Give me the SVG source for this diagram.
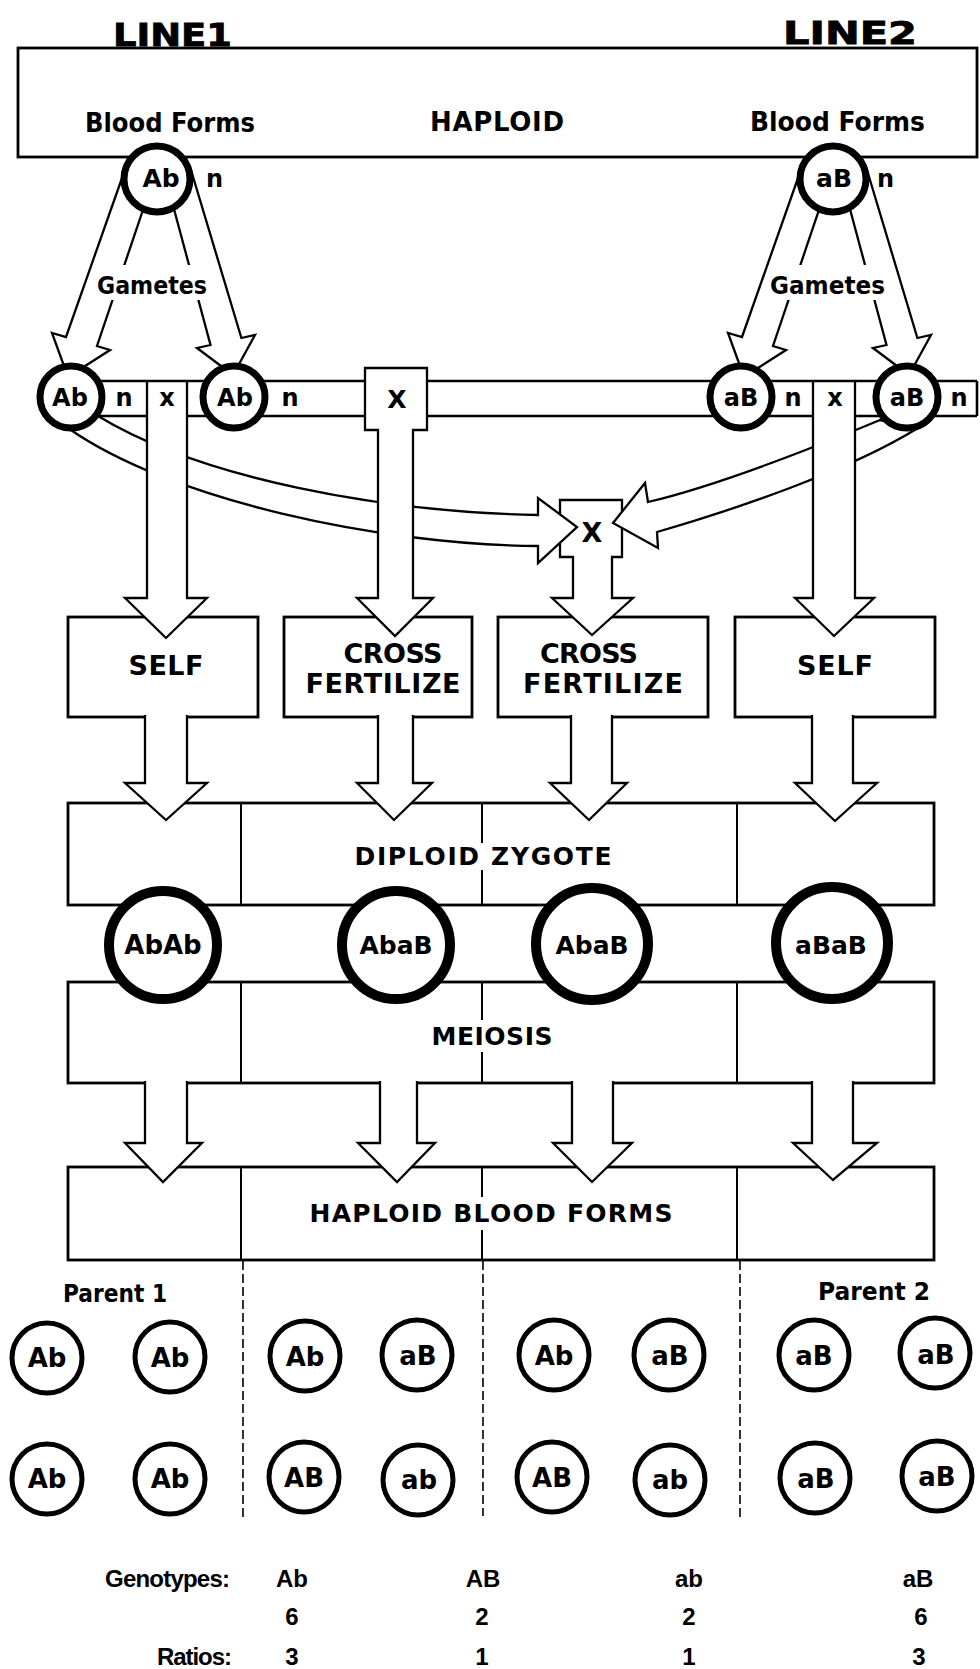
<svg xmlns="http://www.w3.org/2000/svg" width="980" height="1669" viewBox="0 0 980 1669">
<style>
.box{fill:#fff;stroke:#000;stroke-width:2.8}
.arr{fill:#fff;stroke:#000;stroke-width:2.3;stroke-linejoin:miter}
.ln{stroke:#000;stroke-width:2.6;fill:none}
.dv{stroke:#000;stroke-width:2;fill:none}
.dash{stroke:#000;stroke-width:1.6;stroke-dasharray:9 4;fill:none}
.c1{fill:#fff;stroke:#000;stroke-width:7}
.c2{fill:#fff;stroke:#000;stroke-width:10}
.c3{fill:#fff;stroke:#000;stroke-width:5}
text{font-family:"DejaVu Sans","Liberation Sans",Arial,sans-serif;font-weight:bold;fill:#000}
.tb{font-family:"Liberation Sans",Arial,sans-serif}
.m{text-anchor:middle}
.e{text-anchor:end}
.f32{font-size:32px}
.f27{font-size:27px}
.f26{font-size:26px}
.f25{font-size:25px}
.f24{font-size:24px}
.f23{font-size:23px}
</style>

<g id="titles">
<text class="f32" x="113" y="46" textLength="119" lengthAdjust="spacingAndGlyphs" stroke="#000" stroke-width="0.8">LINE1</text>
<text class="f32" x="783" y="44" textLength="134" lengthAdjust="spacingAndGlyphs" stroke="#000" stroke-width="0.8">LINE2</text>
</g>

<g id="haploid-top">
<rect class="box" x="18" y="48" width="959" height="109"/>
<text class="f26" x="85" y="132" textLength="170" lengthAdjust="spacingAndGlyphs">Blood Forms</text>
<text class="f26" x="430" y="131" textLength="134">HAPLOID</text>
<text class="f26" x="750" y="131" textLength="175" lengthAdjust="spacingAndGlyphs">Blood Forms</text>
</g>

<g id="self-1"><rect class="box" x="68" y="617" width="190" height="100"/></g>
<g id="cross-1"><rect class="box" x="284" y="617" width="188" height="100"/></g>
<g id="cross-2"><rect class="box" x="498" y="617" width="210" height="100"/></g>
<g id="self-2"><rect class="box" x="735" y="617" width="200" height="100"/></g>

<g id="diploid-zygote">
<rect class="box" x="68" y="803" width="866" height="102"/>
<line class="dv" x1="241" y1="803" x2="241" y2="905"/>
<line class="dv" x1="482" y1="803" x2="482" y2="843"/>
<line class="dv" x1="482" y1="870" x2="482" y2="905"/>
<line class="dv" x1="737" y1="803" x2="737" y2="905"/>
</g>
<g id="meiosis">
<rect class="box" x="68" y="982" width="866" height="101"/>
<line class="dv" x1="241" y1="982" x2="241" y2="1083"/>
<line class="dv" x1="482" y1="982" x2="482" y2="1020"/>
<line class="dv" x1="482" y1="1052" x2="482" y2="1083"/>
<line class="dv" x1="737" y1="982" x2="737" y2="1083"/>
</g>
<g id="haploid-blood-forms">
<rect class="box" x="68" y="1167" width="866" height="93"/>
<line class="dv" x1="241" y1="1167" x2="241" y2="1260"/>
<line class="dv" x1="482" y1="1167" x2="482" y2="1197"/>
<line class="dv" x1="482" y1="1230" x2="482" y2="1260"/>
<line class="dv" x1="737" y1="1167" x2="737" y2="1260"/>
</g>

<g id="connectors">
<polygon class="arr" points="126.6,165 66,337 52,333 68,377 110,350 97,346 148,195"/>
<polygon class="arr" points="190.4,168 241.4,338 255,335 233,375 197,348 210.5,345 170.2,195"/>
<g transform="translate(676,0)">
<polygon class="arr" points="126.6,165 66,337 52,333 68,377 110,350 97,346 148,195"/>
<polygon class="arr" points="190.4,168 241.4,338 255,335 233,375 197,348 210.5,345 170.2,195"/>
</g>

<path class="arr" d="M560,500 L622,500 L622,557 L612,557 L612,598 L633,598 L592,635 L552,598 L573,598 L573,557 L560,557 Z"/>

<path class="arr" d="M98,416 C200,478 380,512 538,515 L538,498 L577,527 L538,563 L538,546 C380,545 170,500 68,428 Z"/>
<path class="arr" d="M880,420 C820,445 720,485 648,502 L645,483 L613,523 L658,548 L657,532 C740,508 850,470 918,428 Z"/>

<path class="arr" d="M147,381 L147,598 L125,598 L166,638 L207,598 L187,598 L187,381"/>
<path class="arr" d="M365,368 L427,368 L427,430 L413,430 L413,598 L433,598 L395,636 L357,598 L378,598 L378,430 L365,430 Z"/>
<path class="arr" d="M813,381 L813,598 L795,598 L834,636 L874,598 L855,598 L855,381"/>

<path class="arr" d="M145,715 L145,783 L125,783 L166,820 L207,783 L187,783 L187,715"/>
<path class="arr" d="M378,715 L378,783 L357,783 L394,820 L432,783 L413,783 L413,715"/>
<path class="arr" d="M571,715 L571,783 L550,783 L589,820 L627,783 L612,783 L612,715"/>
<path class="arr" d="M812,715 L812,783 L795,783 L835,821 L877,783 L853,783 L853,715"/>

<path class="arr" d="M145,1081 L145,1143 L125,1143 L163,1182 L202,1143 L187,1143 L187,1081"/>
<path class="arr" d="M380,1081 L380,1143 L358,1143 L397,1182 L435,1143 L417,1143 L417,1081"/>
<path class="arr" d="M572,1081 L572,1143 L553,1143 L592,1182 L632,1143 L613,1143 L613,1081"/>
<path class="arr" d="M812,1081 L812,1143 L793,1143 L833,1180 L877,1143 L853,1143 L853,1081"/>

<line class="ln" x1="95" y1="381" x2="365" y2="381"/>
<line class="ln" x1="427" y1="381" x2="977" y2="381"/>
<line class="ln" x1="95" y1="416" x2="147" y2="416"/>
<line class="ln" x1="187" y1="416" x2="365" y2="416"/>
<line class="ln" x1="427" y1="416" x2="813" y2="416"/>
<line class="ln" x1="855" y1="416" x2="977" y2="416"/>
<line class="ln" x1="977" y1="381" x2="977" y2="416"/>

<line class="dash" x1="243" y1="1261" x2="243" y2="1519"/>
<line class="dash" x1="483" y1="1261" x2="483" y2="1516"/>
<line class="dash" x1="740" y1="1261" x2="740" y2="1518"/>
</g>

<g id="gametes-labels">
<rect x="100" y="265" width="105" height="35" fill="#fff"/>
<text class="f25" x="97" y="294" textLength="110" lengthAdjust="spacingAndGlyphs">Gametes</text>
<rect x="773" y="265" width="110" height="35" fill="#fff"/>
<text class="f25" x="770" y="294" textLength="115" lengthAdjust="spacingAndGlyphs">Gametes</text>
</g>

<g id="top-Ab"><circle class="c1" cx="157" cy="179" r="33"/><text class="f25 m" x="161" y="187">Ab</text><text class="f24" x="206" y="187">n</text></g>
<g id="top-aB"><circle class="c1" cx="833" cy="179" r="33"/><text class="f25 m" x="834" y="187">aB</text><text class="f24" x="877" y="187">n</text></g>

<g id="gamete-Ab-1"><circle class="c1" cx="71" cy="397" r="31"/><text class="f24 m" x="70" y="406">Ab</text><text class="f24 m" x="124" y="406">n</text></g>
<g id="cell-x-1"><text class="f24 m" x="167" y="406">x</text></g>
<g id="gamete-Ab-2"><circle class="c1" cx="234" cy="397" r="31"/><text class="f24 m" x="235" y="406">Ab</text><text class="f24 m" x="290" y="406">n</text></g>
<g id="cross-X-1"><text class="f25 m" x="397" y="408">X</text></g>
<g id="gamete-aB-1"><circle class="c1" cx="741" cy="397" r="31"/><text class="f24 m" x="741" y="406">aB</text><text class="f24 m" x="793" y="406">n</text></g>
<g id="cell-x-2"><text class="f24 m" x="835" y="406">x</text></g>
<g id="gamete-aB-2"><circle class="c1" cx="907" cy="397" r="31"/><text class="f24 m" x="907" y="406">aB</text><text class="f24 m" x="959" y="406">n</text></g>
<g id="cross-X-2"><text class="f27 m" x="592" y="542">X</text></g>

<g id="self-1-label"><text class="f27 m" x="166" y="675" textLength="75">SELF</text></g>
<g id="cross-1-label"><text class="f27 m" x="393" y="663" textLength="99">CROSS</text><text class="f27 m" x="383" y="693" textLength="155">FERTILIZE</text></g>
<g id="cross-2-label"><text class="f27 m" x="589" y="663" textLength="98">CROSS</text><text class="f27 m" x="603" y="693" textLength="160">FERTILIZE</text></g>
<g id="self-2-label"><text class="f27 m" x="835" y="675" textLength="76">SELF</text></g>

<g id="diploid-label"><text class="f25 m" x="483" y="865" textLength="257">DIPLOID ZYGOTE</text></g>

<g id="zyg-AbAb"><circle class="c2" cx="163" cy="945" r="54"/><text class="f26 m" x="163" y="954">AbAb</text></g>
<g id="zyg-AbaB-1"><circle class="c2" cx="396" cy="945" r="54"/><text class="f25 m" x="396" y="954">AbaB</text></g>
<g id="zyg-AbaB-2"><circle class="c2" cx="592" cy="944" r="56"/><text class="f25 m" x="592" y="954">AbaB</text></g>
<g id="zyg-aBaB"><circle class="c2" cx="832" cy="943" r="56"/><text class="f25 m" x="831" y="954">aBaB</text></g>

<g id="meiosis-label"><text class="f25 m" x="492" y="1045" textLength="121">MEIOSIS</text></g>
<g id="haploid-label"><text class="f25 m" x="491" y="1222" textLength="363">HAPLOID BLOOD FORMS</text></g>

<g id="parent-1"><text class="f25 m" x="115" y="1302" textLength="104" lengthAdjust="spacingAndGlyphs">Parent 1</text></g>
<g id="parent-2"><text class="f25 m" x="874" y="1300" textLength="112" lengthAdjust="spacingAndGlyphs">Parent 2</text></g>

<g id="o1"><circle class="c3" cx="47" cy="1358" r="35"/><text class="f26 m" x="47" y="1367">Ab</text></g>
<g id="o2"><circle class="c3" cx="170" cy="1357" r="35"/><text class="f26 m" x="170" y="1367">Ab</text></g>
<g id="o3"><circle class="c3" cx="305" cy="1356" r="35"/><text class="f26 m" x="305" y="1366">Ab</text></g>
<g id="o4"><circle class="c3" cx="417" cy="1355" r="35"/><text class="f26 m" x="418" y="1365">aB</text></g>
<g id="o5"><circle class="c3" cx="554" cy="1355" r="35"/><text class="f26 m" x="554" y="1365">Ab</text></g>
<g id="o6"><circle class="c3" cx="669" cy="1355" r="35"/><text class="f26 m" x="670" y="1365">aB</text></g>
<g id="o7"><circle class="c3" cx="814" cy="1355" r="35"/><text class="f26 m" x="814" y="1365">aB</text></g>
<g id="o8"><circle class="c3" cx="935" cy="1353" r="35"/><text class="f26 m" x="936" y="1364">aB</text></g>

<g id="o9"><circle class="c3" cx="47" cy="1479" r="35"/><text class="f26 m" x="47" y="1488">Ab</text></g>
<g id="o10"><circle class="c3" cx="170" cy="1479" r="35"/><text class="f26 m" x="170" y="1488">Ab</text></g>
<g id="o11"><circle class="c3" cx="304" cy="1477" r="35"/><text class="f26 m" x="304" y="1487">AB</text></g>
<g id="o12"><circle class="c3" cx="418" cy="1480" r="35"/><text class="f26 m" x="419" y="1489">ab</text></g>
<g id="o13"><circle class="c3" cx="552" cy="1477" r="35"/><text class="f26 m" x="552" y="1487">AB</text></g>
<g id="o14"><circle class="c3" cx="670" cy="1480" r="35"/><text class="f26 m" x="670" y="1489">ab</text></g>
<g id="o15"><circle class="c3" cx="815" cy="1478" r="35"/><text class="f26 m" x="816" y="1488">aB</text></g>
<g id="o16"><circle class="c3" cx="937" cy="1476" r="35"/><text class="f26 m" x="937" y="1486">aB</text></g>

<g id="table">
<text class="f24 e tb" x="230" y="1587" textLength="125">Genotypes:</text>
<text class="f24 m tb" x="292" y="1587">Ab</text>
<text class="f24 m tb" x="483" y="1587">AB</text>
<text class="f24 m tb" x="689" y="1587">ab</text>
<text class="f24 m tb" x="918" y="1587">aB</text>
<text class="f24 m tb" x="292" y="1625">6</text>
<text class="f24 m tb" x="482" y="1625">2</text>
<text class="f24 m tb" x="689" y="1625">2</text>
<text class="f24 m tb" x="921" y="1625">6</text>
<text class="f24 e tb" x="232" y="1665" textLength="75">Ratios:</text>
<text class="f24 m tb" x="292" y="1665">3</text>
<text class="f24 m tb" x="482" y="1665">1</text>
<text class="f24 m tb" x="689" y="1665">1</text>
<text class="f24 m tb" x="919" y="1665">3</text>
</g>
</svg>
